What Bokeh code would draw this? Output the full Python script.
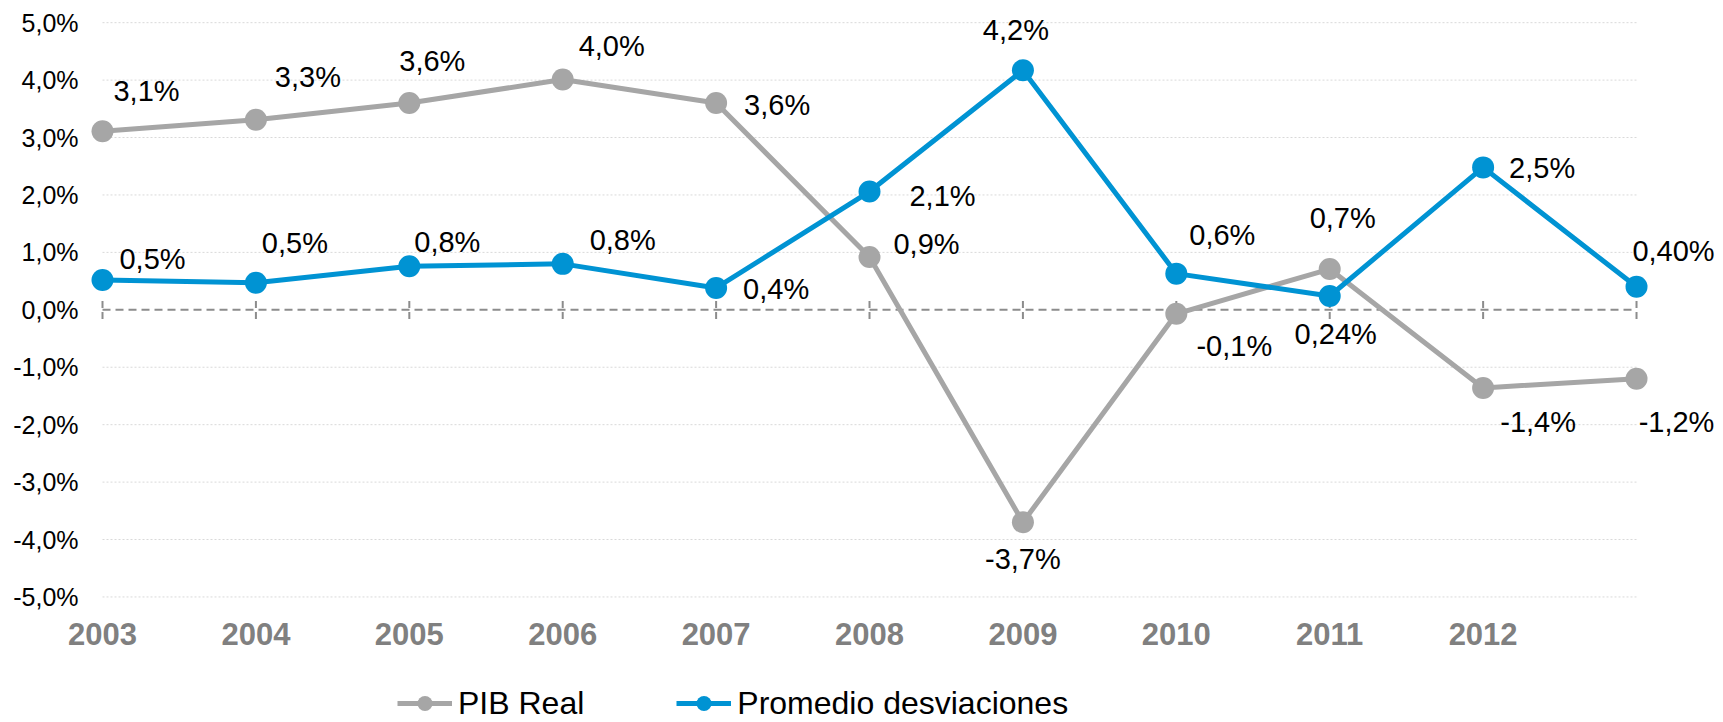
from bokeh.plotting import figure
from bokeh.models import (Range1d, FixedTicker, ColumnDataSource, LabelSet,
                          Legend, LegendItem)
from bokeh.core.properties import value
from bokeh.embed import file_html
from bokeh.resources import INLINE

# ---- data ----
years = ["2003", "2004", "2005", "2006", "2007", "2008", "2009", "2010",
         "2011", "2012", ""]
pib_real = [3.11, 3.31, 3.60, 4.01, 3.60, 0.92, -3.70, -0.07, 0.71, -1.36, -1.20]
promedio = [0.52, 0.47, 0.76, 0.80, 0.38, 2.06, 4.17, 0.63, 0.24, 2.48, 0.40]
pib_labels = ["3,1%", "3,3%", "3,6%", "4,0%", "3,6%", "0,9%", "-3,7%",
              "-0,1%", "0,7%", "-1,4%", "-1,2%"]
prom_labels = ["0,5%", "0,5%", "0,8%", "0,8%", "0,4%", "2,1%", "4,2%",
               "0,6%", "0,24%", "2,5%", "0,40%"]
y_ticks = [-5, -4, -3, -2, -1, 0, 1, 2, 3, 4, 5]
y_tick_labels = ["-5,0%", "-4,0%", "-3,0%", "-2,0%", "-1,0%", "0,0%",
                 "1,0%", "2,0%", "3,0%", "4,0%", "5,0%"]

# ---- label placement (screen px, dx right / dy up) ----
pib_dx = [44, 52, 23, 49, 61, 57, 0, 58, 13, 55, 40]
pib_dy = [40, 43, 42, 34, -2, 13, -37, -32, 51, -34, -43]
prom_dx = [50, 39, 38, 60, 60, 73, -7, 46, 6, 59, 37]
prom_dy = [21, 40, 24, 24, -1, -4, 40, 39, -38, -1, 36]

FONT = "Liberation Sans"
GRAY = "#a6a6a6"
BLUE = "#0093d3"

x = list(range(len(years)))
src = ColumnDataSource(dict(x=x, pib=pib_real, prom=promedio,
                            pib_lab=pib_labels, prom_lab=prom_labels,
                            pdx=pib_dx, pdy=pib_dy, qdx=prom_dx, qdy=prom_dy))

# frame covers the whole canvas; axes are placed at fixed locations
p = figure(width=1723, height=722, output_backend="svg", toolbar_location=None,
           x_range=Range1d(-0.665, 10.567), y_range=Range1d(-7.186, 5.386),
           min_border_left=0, min_border_right=0, min_border_top=0,
           min_border_bottom=0)
p.outline_line_color = None
p.xgrid.visible = False
p.ygrid.visible = False
p.background_fill_color = "white"
p.border_fill_color = "white"

# gridlines (dotted) spanning the categories
grid_y = [t for t in y_ticks if t != 0]
p.segment(x0=[x[0]] * len(grid_y), x1=[x[-1]] * len(grid_y), y0=grid_y, y1=grid_y,
          line_color="#d9d9d9", line_width=1, line_dash="2 2")
# zero line, dashed
p.segment(x0=[x[0]], x1=[x[-1]], y0=[0], y1=[0], line_color="#8c8c8c",
          line_width=2, line_dash="8 5")
# category tick marks on the zero line
p.segment(x0=x, x1=x, y0=[-0.16] * len(x), y1=[0.16] * len(x),
          line_color="#8c8c8c", line_width=2, line_dash="7 4")

l1 = p.line("x", "pib", source=src, line_color=GRAY, line_width=5)
s1 = p.scatter("x", "pib", source=src, size=22, fill_color=GRAY, line_color=None)
l2 = p.line("x", "prom", source=src, line_color=BLUE, line_width=5)
s2 = p.scatter("x", "prom", source=src, size=22, fill_color=BLUE, line_color=None)

lab_kw = dict(source=src, text_font=value(FONT), text_font_size="29px",
              text_align="center", text_baseline="middle", text_color="black")
p.add_layout(LabelSet(x="x", y="pib", text="pib_lab", x_offset="pdx",
                      y_offset="pdy", **lab_kw))
p.add_layout(LabelSet(x="x", y="prom", text="prom_lab", x_offset="qdx",
                      y_offset="qdy", **lab_kw))

# axes
xa = p.xaxis[0]
xa.fixed_location = -5.044
xa.ticker = FixedTicker(ticks=x)
xa.major_label_overrides = {i: years[i] for i in x}
xa.axis_line_color = None
xa.major_tick_line_color = None
xa.minor_tick_line_color = None
xa.major_tick_out = 0
xa.major_tick_in = 0
xa.major_label_standoff = 24
xa.major_label_text_font = FONT
xa.major_label_text_font_size = "31px"
xa.major_label_text_font_style = "bold"
xa.major_label_text_color = "#808080"

ya = p.yaxis[0]
ya.fixed_location = -0.104
ya.ticker = FixedTicker(ticks=y_ticks)
ya.major_label_overrides = {t: lbl for t, lbl in zip(y_ticks, y_tick_labels)}
ya.axis_line_color = None
ya.major_tick_line_color = None
ya.minor_tick_line_color = None
ya.major_tick_out = 0
ya.major_tick_in = 0
ya.major_label_standoff = 8
ya.major_label_text_font = FONT
ya.major_label_text_font_size = "25px"
ya.major_label_text_color = "black"

legend = Legend(items=[LegendItem(label="PIB Real", renderers=[l1, s1]),
                       LegendItem(label="Promedio desviaciones", renderers=[l2, s2])],
                orientation="horizontal", location=(397, 0),
                glyph_width=55, glyph_height=38, label_height=38,
                label_standoff=6, spacing=92, padding=0, margin=0,
                border_line_color=None, background_fill_alpha=0,
                label_text_font=FONT, label_text_font_size="32px",
                label_text_color="black")
p.add_layout(legend)

open("out.html", "w").write(file_html(p, INLINE))
